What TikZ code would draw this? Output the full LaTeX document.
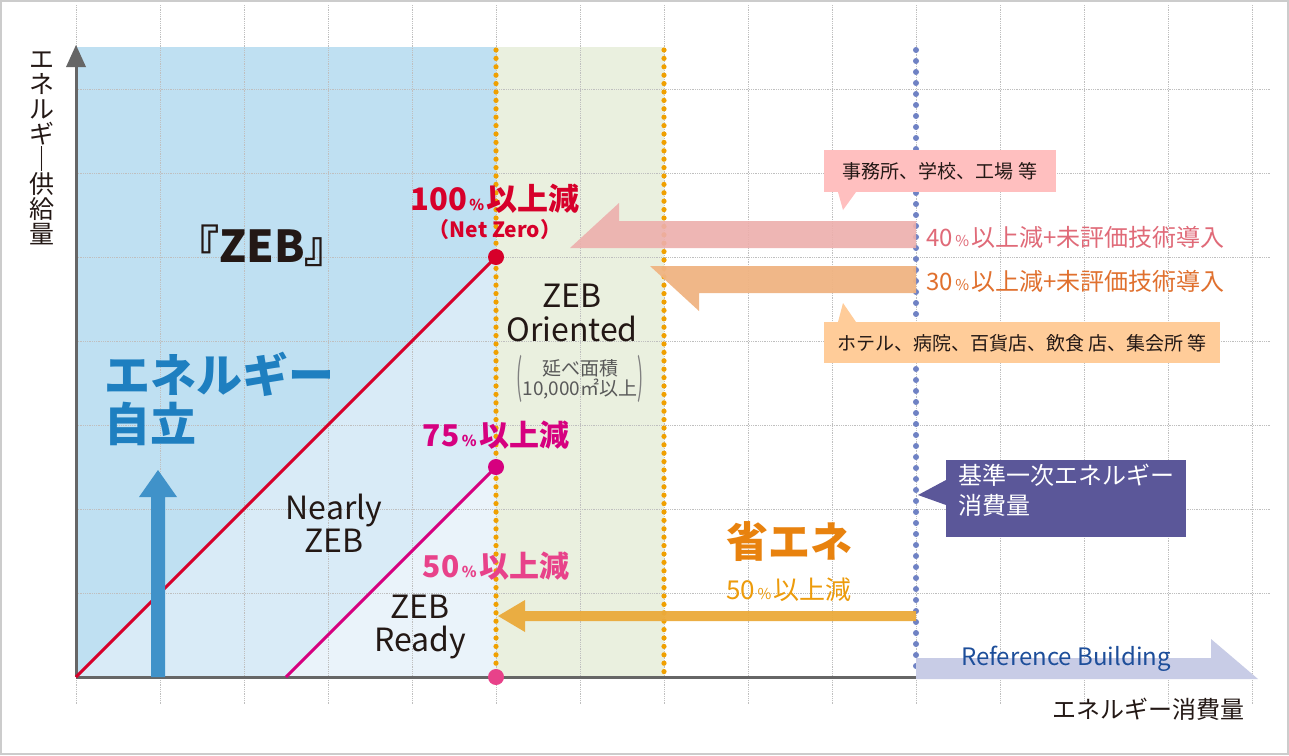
\documentclass[tikz,border=0pt]{standalone}
\usepackage{fontspec}
\setmainfont{Noto Sans CJK JP}
\usepackage{graphicx}
\definecolor{bgblue}{HTML}{BFE0F2}
\definecolor{midblue}{HTML}{D9EBF7}
\definecolor{paleblue}{HTML}{EAF3FA}
\definecolor{bggreen}{HTML}{EAF0DF}
\definecolor{zred}{HTML}{D7002A}
\definecolor{zmag}{HTML}{D6007F}
\definecolor{zpink}{HTML}{E8428A}
\definecolor{zorange}{HTML}{E8820E}
\definecolor{zgold}{HTML}{EBAA3A}
\definecolor{zdot}{HTML}{F0A000}
\definecolor{zblue}{HTML}{1E7FC0}
\definecolor{zpurple}{HTML}{5B5799}
\definecolor{bdot}{HTML}{6F82C4}
\definecolor{parrow}{HTML}{EDAFAC}
\definecolor{oarrow}{HTML}{F0B482}
\definecolor{refarrow}{HTML}{C8CCE6}
\definecolor{refblue}{HTML}{1D4E9A}
\definecolor{t40}{HTML}{E06A78}
\definecolor{t30}{HTML}{E0702E}
\definecolor{dark}{HTML}{231815}
\tikzset{
  fs/.style={font=\fontsize{#1pt}{\dimexpr #1pt*6/5\relax}\selectfont},
  lbl/.style={inner sep=0pt},
}
\newcommand{\pc}{{\fontsize{15}{15}\selectfont\,\%\,}}
\begin{document}
\begin{tikzpicture}[x=1pt,y=-1pt]
\useasboundingbox (0,0) rectangle (1289,755);
\fill[white] (0,0) rectangle (1289,755);
\draw[black!20,line width=2pt] (1,1) rectangle (1288,754);
% regions
\fill[bgblue] (76,47) rectangle (496,677);
\fill[bggreen] (496,47) rectangle (664,677);
\fill[midblue] (76,677) -- (496,257) -- (496,677) -- cycle;
\fill[paleblue] (286,677) -- (496,467) -- (496,677) -- cycle;
% grid
\foreach \x in {76,160,...,1252} \draw[black!25,densely dotted,line width=0.8pt] (\x,5) -- (\x,705);
\foreach \y in {89,173,...,593} \draw[black!25,densely dotted,line width=0.8pt] (76,\y) -- (1270,\y);
% dotted verticals
\foreach \y in {50,58.4,...,676} {
  \fill[zdot] (496,\y) circle (2.6);
  \fill[zdot] (664,\y) circle (2.6);
}
\foreach \y in {50,61,...,676} \fill[bdot] (916,\y) circle (3);
% axes
\coordinate (o) at (76,677);
\coordinate (xend) at (916,677);
\draw[black!60,line width=3pt] (o) -- (xend);
\draw[black!60,line width=3pt] (o) -- (76,64);
\fill[black!60] (66,67) -- (76,45) -- (86,67) -- cycle;
% reference building arrow
\fill[refarrow] (916,658) -- (1211,658) -- (1211,639) -- (1258,679) -- (916,679) -- cycle;
\node[lbl,fs=24,text=refblue,anchor=base] (ref) at (1066,665) {Reference Building};
% lines and dots
\node[circle,fill=zred,inner sep=0pt,minimum size=16pt] (d100) at (496,257) {};
\node[circle,fill=zmag,inner sep=0pt,minimum size=16pt] (d75) at (496,467) {};
\node[circle,fill=zpink,inner sep=0pt,minimum size=16pt] (d50) at (496,677) {};
\coordinate (r0) at (76,677);
\coordinate (m0) at (286,677);
\draw[zred,line width=3pt] (r0) -- (d100.center);
\draw[zmag,line width=3pt] (m0) -- (d75.center);
% blue up arrow
\fill[zblue!85!white] (151,677) -- (151,497) -- (139,497) -- (158,470) -- (177,497) -- (165,497) -- (165,677) -- cycle;
% pink and orange arrows
\fill[parrow,opacity=0.9] (916,221) -- (619,221) -- (619,203) -- (570,248) -- (916,248) -- cycle;
\fill[oarrow,opacity=0.95] (916,266) -- (650,266) -- (699,311) -- (699,293) -- (916,293) -- cycle;
% gold arrow
\fill[zgold,opacity=0.95] (916,611) -- (525,611) -- (525,600) -- (498,616) -- (525,632) -- (525,621) -- (916,621) -- cycle;
% callouts
\fill[red!25!white] (824,150) rectangle (1056,192);
\fill[red!25!white] (838,192) -- (843,210) -- (856,192) -- cycle;
\node[lbl,fs=19,text=dark] (c1) at (940,171) {事務所、学校、工場 等};
\fill[orange!40!white] (824,322) rectangle (1220,363);
\fill[orange!40!white] (838,322) -- (843,303) -- (856,322) -- cycle;
\node[lbl,fs=19,text=dark] (c2) at (1022,343) {ホテル、病院、百貨店、飲食 店、集会所 等};
\fill[zpurple] (946,460) rectangle (1186,537);
\fill[zpurple] (946,480) -- (918,495) -- (946,505) -- cycle;
\node[lbl,fs=24,text=white,align=left,anchor=north west] (c3) at (958,464) {基準一次エネルギー\\[1pt]消費量};
% texts
\node[lbl,fs=24,text=t40,anchor=west] (t40) at (926,237) {40\pc 以上減+未評価技術導入};
\node[lbl,fs=24,text=t30,anchor=west] (t30) at (926,281) {30\pc 以上減+未評価技術導入};
\node[lbl,fs=25,text=dark,align=center] (ylab) at (42,148) {エ\\[-5pt]ネ\\[-5pt]ル\\[-5pt]ギ\\[-5pt]｜\\[-5pt]供\\[-5pt]給\\[-5pt]量};
\node[lbl,fs=24,text=dark] (xlab) at (1148,709) {エネルギー消費量};
\node[lbl,fs=44,text=dark] (zeb) at (262,246) {\bfseries 『ZEB』};
\node[lbl,fs=31,text=zred,anchor=base] (p100) at (495,210) {\bfseries 100\pc 以上減};
\node[lbl,fs=21,text=zred,anchor=base] (nz) at (495,237) {\bfseries （Net Zero）};
\node[lbl,fs=32,text=dark,align=center] (zo) at (572,313) {ZEB\\[-5pt]Oriented};
\node[lbl,fs=19,text=black!65,align=center] (area) at (580,379) {延べ面積\\[-3pt]10,000㎡以上};
\node[lbl,text=black!50,anchor=east] at (area.west) {\fontsize{18}{18}\selectfont\scalebox{1}[2.6]{(}};
\node[lbl,text=black!50,anchor=west] at (area.east) {\fontsize{18}{18}\selectfont\scalebox{1}[2.6]{)}};
\node[lbl,fs=46,text=zblue,align=left,anchor=north west] (jiritsu) at (104,352) {\bfseries エネルギー\\[-6pt]\bfseries 自立};
\node[lbl,fs=30,text=zmag,anchor=base] (p75) at (496,446) {\bfseries 75\pc 以上減};
\node[lbl,fs=32,text=dark,align=center] (nzeb) at (334,523) {Nearly\\[-5pt]ZEB};
\node[lbl,fs=30,text=zpink,anchor=base] (p50) at (496,577) {\bfseries 50\pc 以上減};
\node[lbl,fs=32,text=dark,align=center] (zr) at (420,627) {ZEB\\[-5pt]Ready};
\node[lbl,fs=42,text=zorange,anchor=base] (shoene) at (789,557) {\bfseries 省エネ};
\node[lbl,fs=26,text=zorange!80!yellow,anchor=base] (p50b) at (789,599) {50\pc 以上減};
\end{tikzpicture}
\end{document}
